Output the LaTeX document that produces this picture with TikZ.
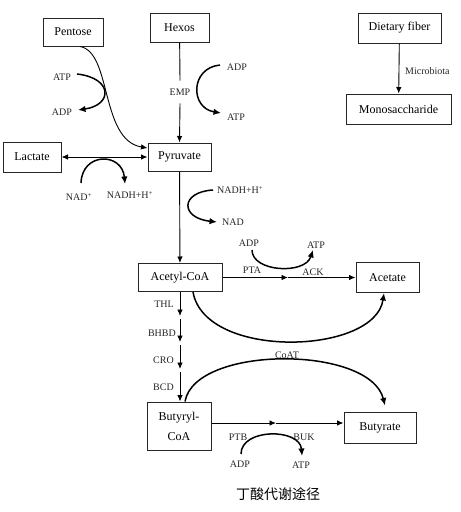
\documentclass[tikz,border=0pt]{standalone}
\usepackage{fontspec}
\setmainfont{Liberation Serif}
\newfontfamily\cjk{Noto Sans CJK SC}
\usetikzlibrary{arrows.meta}
\begin{document}
\begin{tikzpicture}[x=1pt,y=-1pt,
 box/.style={draw=black!85,line width=1pt,font=\fontsize{12}{20}\selectfont,inner sep=0pt,align=center},
 lbl/.style={font=\fontsize{10}{11}\selectfont,inner sep=1pt,text=black!85},
 conn/.style={line width=0.9pt,-{Latex[length=6.5pt,width=5.5pt]}},
 plain/.style={line width=0.9pt},
 bendarr/.style={line width=1.5pt,-{Latex[length=7.5pt,width=6.5pt]}}]
\useasboundingbox (0,0) rectangle (461,512);

% boxes
\node[box,minimum width=60pt,minimum height=28pt] (pentose) at (73,32) {Pentose};
\node[box,minimum width=59pt,minimum height=29pt] (hexos) at (179.5,27.5) {Hexos};
\node[box,minimum width=83pt,minimum height=30pt] (fiber) at (399.5,28) {Dietary fiber};
\node[box,minimum width=105pt,minimum height=30pt] (mono) at (398.5,109) {Monosaccharide};
\node[box,minimum width=58pt,minimum height=30pt] (lactate) at (32,157) {Lactate};
\node[box,minimum width=63pt,minimum height=28pt] (pyr) at (179.5,157) {Pyruvate};
\node[box,minimum width=84pt,minimum height=28pt] (acetyl) at (180,277.5) {Acetyl-CoA};
\node[box,minimum width=63pt,minimum height=30pt] (acetate) at (387.5,277.5) {Acetate};
\node[box,minimum width=64pt,minimum height=48pt] (butyryl) at (179,426) {Butyryl-\\CoA};
\node[box,minimum width=72pt,minimum height=31pt] (butyrate) at (380,427.5) {Butyrate};

% labels
\node[lbl] (atp1) at (62,77) {ATP};
\node[lbl] (adp1) at (62,112) {ADP};
\node[lbl,inner ysep=8pt] (emp) at (180,92) {EMP};
\node[lbl] (adp2) at (237,67) {ADP};
\node[lbl] (atp2) at (236,117) {ATP};
\node[lbl,anchor=west] (micro) at (404,71) {Microbiota};
\node[lbl] (nad1) at (79,197) {NAD\textsuperscript{+}};
\node[lbl] (nadh1) at (130,195) {NADH+H\textsuperscript{+}};
\node[lbl,anchor=west] (nadh2) at (216,190) {NADH+H\textsuperscript{+}};
\node[lbl,anchor=west] (nad2) at (221,222) {NAD};
\node[lbl] (adp3) at (249,243) {ADP};
\node[lbl] (atp3) at (316,245) {ATP};
\node[lbl] (pta) at (252,270) {PTA};
\node[lbl] (ack) at (313,272) {ACK};
\node[lbl,anchor=east] (thl) at (175,304) {THL};
\node[lbl,anchor=east] (bhbd) at (177,333) {BHBD};
\node[lbl,anchor=east] (cro) at (175,360) {CRO};
\node[lbl,anchor=east] (bcd) at (175,387) {BCD};
\node[lbl] (coat) at (287,355) {CoAT};
\node[lbl] (ptb) at (238,437) {PTB};
\node[lbl] (buk) at (304,437) {BUK};
\node[lbl] (adp4) at (240,464) {ADP};
\node[lbl] (atp4) at (301,465) {ATP};
\node[font=\cjk\fontsize{14}{16}\selectfont,inner sep=0pt] (cap) at (278,494) {丁酸代谢途径};

% straight connectors
\draw[plain] (hexos) -- (emp.north);
\draw[conn] (emp.south) -- (pyr.north);
\draw[conn] (fiber) -- (mono);
\draw[line width=0.9pt,{Latex[length=6.5pt,width=5.5pt]}-{Latex[length=6.5pt,width=5.5pt]}] (lactate) -- (pyr);
\draw[conn] (pyr) -- (acetyl);

\coordinate (m1) at (288,277.5);
\draw[conn] (acetyl.east) -- (m1);
\draw[conn] (m1) -- (acetate.west);

\coordinate (m2) at (276,423);
\draw[conn] ([yshift=3pt]butyryl.east) -- (m2);
\draw[conn] (m2) -- ([yshift=4.5pt]butyrate.west);

\coordinate (c1) at (180,316);
\coordinate (c2) at (180,319);
\coordinate (c3) at (180,342);
\coordinate (c4) at (180,345);
\coordinate (c5) at (180,369);
\coordinate (c6) at (180,372);
\draw[conn] (acetyl.south) -- (c1);
\draw[conn] (c2) -- (c3);
\draw[conn] (c4) -- (c5);
\draw[conn] (c6) -- ([xshift=1pt]butyryl.north);

% pentose curve
\draw[conn] ([xshift=7pt]pentose.south) .. controls (112,52) and (100,140) .. ([yshift=9pt]pyr.west);

% cofactor arcs
\coordinate (a1s) at (77,74); \coordinate (a1e) at (78,110);
\draw[bendarr] (a1s) .. controls (113,78) and (113,105) .. (a1e);
\coordinate (a2s) at (81,183); \coordinate (a2e) at (125,184);
\draw[bendarr] (a2s) .. controls (82,152) and (122,152) .. (a2e);
\coordinate (a3s) at (220,65); \coordinate (a3e) at (221,113);
\draw[bendarr] (a3s) .. controls (190,68) and (190,108) .. (a3e);
\coordinate (a4s) at (213,190); \coordinate (a4e) at (217,222);
\draw[bendarr] (a4s) .. controls (180,192) and (180,218) .. (a4e);
\coordinate (a5s) at (252,250); \coordinate (a5e) at (313,250);
\draw[bendarr] (a5s) .. controls (252,272) and (305,275) .. (a5e);
\coordinate (a6s) at (241,454); \coordinate (a6e) at (302,456);
\draw[bendarr] (a6s) .. controls (241,428) and (300,428) .. (a6e);

% big curves
\draw[bendarr] ([xshift=13pt]acetyl.south) .. controls (205,360) and (375,355) .. ([xshift=-3.5pt]acetate.south);
\draw[bendarr] ([xshift=6pt]butyryl.north) .. controls (195,345) and (370,345) .. ([xshift=5pt,yshift=6pt]butyrate.north);
\end{tikzpicture}
\end{document}
